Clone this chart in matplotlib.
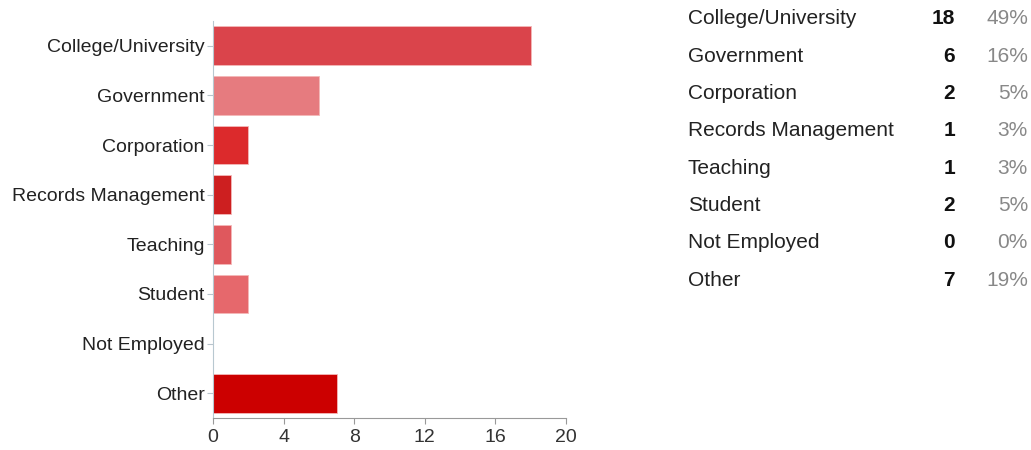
import matplotlib.pyplot as plt

categories = ['College/University', 'Government', 'Corporation', 'Records Management',
              'Teaching', 'Student', 'Not Employed', 'Other']
counts = [18, 6, 2, 1, 1, 2, 0, 7]
bar_colors = ['#da444b', '#e67b7f', '#dc2a2c', '#cd1f20', '#df585d', '#e6686c', '#e07070', '#cc0000']
x_ticks = [0, 4, 8, 12, 16, 20]

plt.rcParams['font.family'] = ['Liberation Sans', 'DejaVu Sans']

fig = plt.figure(figsize=(10.31, 4.5), dpi=100)
ax = fig.add_axes([213 / 1031, 1 - 418 / 450, 353 / 1031, 397 / 450])

y = list(range(len(categories)))
ax.barh(y, counts, height=0.78, color=bar_colors, edgecolor='#f4b8b8', linewidth=0.6)
ax.set_ylim(len(categories) - 0.5, -0.5)
ax.set_xlim(0, 20)
ax.set_xticks(x_ticks)
ax.set_yticks(y)
ax.set_yticklabels(categories)
ax.tick_params(axis='y', length=4, color='#b8c4cc', labelsize=14, labelcolor='#222222', pad=2)
ax.tick_params(axis='x', length=4, color='#999999', labelsize=14, labelcolor='#333333', pad=4)
for s in ['top', 'right']:
    ax.spines[s].set_visible(False)
ax.spines['left'].set_color('#b8c8d0')
ax.spines['bottom'].set_color('#999999')

# summary table on the right
total = sum(counts)
row_y = 19
for name, n in zip(categories, counts):
    pct = round(100 * n / total)
    fy = 1 - row_y / 450
    fig.text(688 / 1031, fy, name, fontsize=15, color='#222222', va='center', ha='left')
    fig.text(955 / 1031, fy, str(n), fontsize=15, color='#111111', va='center', ha='right', fontweight='bold')
    fig.text(1028 / 1031, fy, f'{pct}%', fontsize=15, color='#888888', va='center', ha='right')
    row_y += 37.3

fig.savefig('out.png')
